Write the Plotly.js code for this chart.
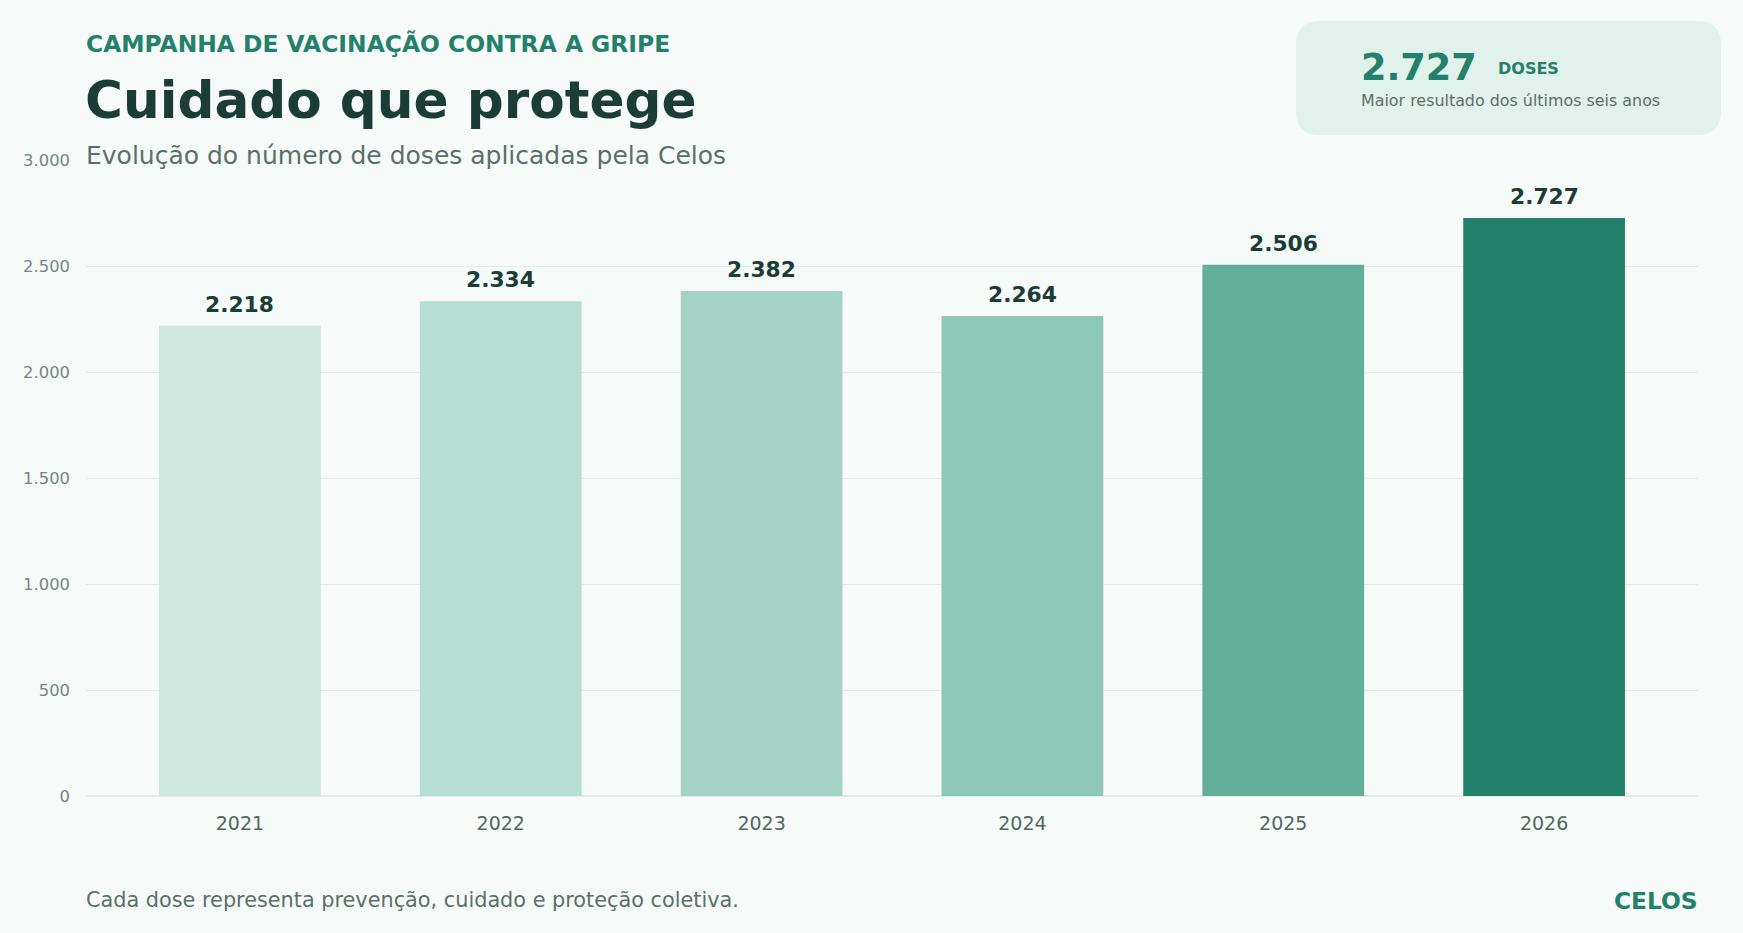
<!DOCTYPE html>
<html>
<head>
<meta charset="utf-8">
<script src="https://cdn.plot.ly/plotly-3.0.1.min.js"></script>
<style>
  body { margin: 0; background: #f6faf9; }
  #chart { width: 1743px; height: 933px; }
</style>
</head>
<body>
<div id="chart"></div>
<script>
var years = ['2021', '2022', '2023', '2024', '2025', '2026'];
var doses = [2218, 2334, 2382, 2264, 2506, 2727];
var barColors = ['#cfe8df', '#b7ded2', '#a4d2c4', '#8dc7b5', '#62ae98', '#23806b'];
var yTicks = [0, 500, 1000, 1500, 2000, 2500, 3000];

// plot box in page pixels, used to place the texts around it
var L = 86, R = 1698, T = 160, B = 796;
function fx(x){ return (x - L) / (R - L); }
function fy(y){ return (B - y) / (B - T); }

var font = 'DejaVu Sans, Verdana, sans-serif';
var green = '#23806a';
var dark = '#1b3d36';
var grey = '#5b7069';

function fmt(v){
  return String(v).replace(/\B(?=(\d{3})+(?!\d))/g, '.');
}

function makePlot(){

  var trace = {
    type: 'bar',
    x: years,
    y: doses,
    width: 0.62,
    marker: { color: barColors },
    hoverinfo: 'x+y'
  };

  // rounded card top right
  var cx0 = 1296, cx1 = 1721, cy0 = 21, cy1 = 135, r = 24;
  var card = 'M ' + fx(cx0 + r) + ' ' + fy(cy0) +
    ' L ' + fx(cx1 - r) + ' ' + fy(cy0) +
    ' Q ' + fx(cx1) + ' ' + fy(cy0) + ' ' + fx(cx1) + ' ' + fy(cy0 + r) +
    ' L ' + fx(cx1) + ' ' + fy(cy1 - r) +
    ' Q ' + fx(cx1) + ' ' + fy(cy1) + ' ' + fx(cx1 - r) + ' ' + fy(cy1) +
    ' L ' + fx(cx0 + r) + ' ' + fy(cy1) +
    ' Q ' + fx(cx0) + ' ' + fy(cy1) + ' ' + fx(cx0) + ' ' + fy(cy1 - r) +
    ' L ' + fx(cx0) + ' ' + fy(cy0 + r) +
    ' Q ' + fx(cx0) + ' ' + fy(cy0) + ' ' + fx(cx0 + r) + ' ' + fy(cy0) + ' Z';

  function note(text, x, y, size, color, anchor, weight){
    return {
      xref: 'paper', yref: 'paper', x: fx(x), y: fy(y),
      xanchor: anchor, yanchor: 'middle', showarrow: false,
      text: text,
      font: { family: font, size: size, color: color, weight: weight || 'normal' }
    };
  }

  var notes = [
    note('CAMPANHA DE VACINAÇÃO CONTRA A GRIPE', 84, 44, 23.4, green, 'left', 'bold'),
    note('Cuidado que protege', 83, 100, 51.7, dark, 'left', 'bold'),
    note('Evolução do número de doses aplicadas pela Celos', 84, 155, 25, grey, 'left'),
    note('2.727', 1359, 67, 36.6, green, 'left', 'bold'),
    note('DOSES', 1496, 68, 16, green, 'left', 'bold'),
    note('Maior resultado dos últimos seis anos', 1359, 101, 15.9, grey, 'left'),
    note('Cada dose representa prevenção, cuidado e proteção coletiva.', 84, 900, 20.8, grey, 'left'),
    note('CELOS', 1700, 900, 23.3, green, 'right', 'bold')
  ];

  // value labels above the bars (category index on the x axis)
  for (var i = 0; i < years.length; i++) {
    notes.push({
      x: i, y: doses[i], xref: 'x', yref: 'y',
      xanchor: 'center', yanchor: 'bottom', yshift: 7, showarrow: false,
      text: fmt(doses[i]),
      font: { family: font, size: 21.8, color: dark, weight: 'bold' }
    });
  }

  var layout = {
    width: 1743,
    height: 933,
    separators: ',.',
    paper_bgcolor: '#f6faf9',
    plot_bgcolor: '#f6faf9',
    margin: { l: L, r: 1743 - R, t: T, b: 933 - B, pad: 0 },
    showlegend: false,
    xaxis: {
      type: 'category',
      range: [-0.59, 5.59],
      showgrid: false,
      showline: false,
      ticks: '',
      ticklabelstandoff: 14,
      tickfont: { family: font, size: 19, color: '#52675f' }
    },
    yaxis: {
      range: [0, 3000],
      tickvals: yTicks,
      tickformat: ',',
      showgrid: true,
      gridcolor: '#e2ebe8',
      gridwidth: 1,
      zeroline: true,
      zerolinecolor: '#e2ebe8',
      zerolinewidth: 2,
      showline: false,
      ticks: '',
      ticklabelstandoff: 15,
      tickfont: { family: font, size: 16.4, color: '#75877f' }
    },
    shapes: [{
      type: 'path', xref: 'paper', yref: 'paper', path: card,
      fillcolor: '#e1f1eb', line: { width: 0 }, layer: 'below'
    }],
    annotations: notes
  };

  Plotly.newPlot('chart', [trace], layout, { displayModeBar: false, staticPlot: true });
}

makePlot();
</script>
</body>
</html>
